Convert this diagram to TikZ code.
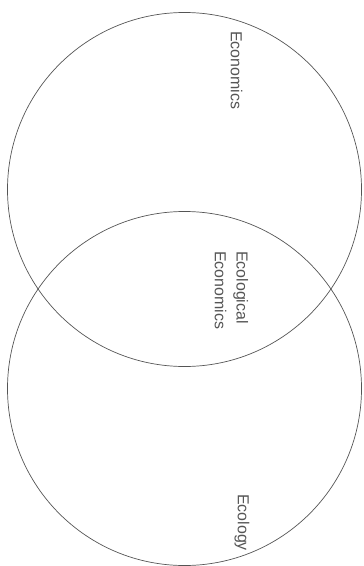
\documentclass[tikz,border=0pt]{standalone}
\usepackage{fontspec}
\setmainfont{Liberation Sans}
\usetikzlibrary{positioning}
\definecolor{inkgray}{RGB}{85, 85, 85}

\begin{document}
\begin{tikzpicture}[x=0.03cm, y=-0.03cm,
    field/.style={
        circle, draw=inkgray, line width=0.6pt,
        minimum size=10.62cm, inner sep=0pt
    },
    vlab/.style={
        rotate=-90, inner sep=0pt, text=inkgray,
        font=\fontsize{13.6}{18.6}\selectfont
    },
]

    \useasboundingbox (0,0) rectangle (363,566);

    % --- los dos campos ---
    \node[field] (econ) at (184.5,189.5) {};
    \node[field] (ecol) at (184.5,388.5) {};

    % --- rotulos verticales ---
    \node[vlab, anchor=base west] (leconomics) at (230.8,31) {Economics};
    \node[vlab, anchor=north west, align=left] (lcommon) at (248.5,251)
        {Ecological\\Economics};
    \node[vlab, anchor=base west] (lecology) at (237.8,494) {Ecology};

\end{tikzpicture}
\end{document}
